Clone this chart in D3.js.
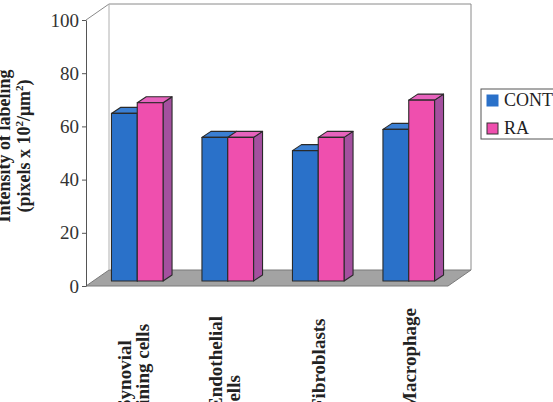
<!DOCTYPE html>
<html>
<head>
<meta charset="utf-8">
<script src="https://cdn.jsdelivr.net/npm/d3@7"></script>
<style>
  body { margin: 0; background: #fff; }
  svg { display: block; font-family: "Liberation Serif", "Times New Roman", serif; }
</style>
</head>
<body>
<div class="container"></div>
<script>
var categories = ['Synovial lining cells', 'Endothelial cells', 'Fibroblasts', 'Macrophage'];
var categoryLines = [['Synovial', 'lining cells'], ['Endothelial', 'cells'], ['Fibroblasts'], ['Macrophage']];
var seriesNames = ['CONTROL', 'RA'];
var controlValues = [63, 54, 49, 57];
var raValues = [67, 54, 54, 68];
var yTicks = [0, 20, 40, 60, 80, 100];

const WIDTH = 553, HEIGHT = 402;
const LEFT = 86, RIGHT = 448, TOP = 20, BOTTOM = 286;
const DEPTH_X = 23, DEPTH_Y = -16;     // depth of the 3d box
const BAR_OFF_X = 6, BAR_OFF_Y = -5;   // bars sit a little inside the box
const BAR_DX = 9, BAR_DY = -6;         // depth of each bar

var colors = {
    CONTROL: {front: '#2a71c9', top: '#3b7fd3', side: '#1f559c'},
    RA: {front: '#ef4fae', top: '#e763bd', side: '#a4509f'}
};

var pts = function (arr) {
    return arr.map(function (p) { return p.join(','); }).join(' ');
};

var drawBar = function (g, x, w, yTop, yBottom, c) {
    // side, top, front
    g.append('polygon')
        .attr('points', pts([[x + w, yBottom], [x + w + BAR_DX, yBottom + BAR_DY], [x + w + BAR_DX, yTop + BAR_DY], [x + w, yTop]]))
        .attr('fill', c.side);
    g.append('polygon')
        .attr('points', pts([[x, yTop], [x + w, yTop], [x + w + BAR_DX, yTop + BAR_DY], [x + BAR_DX, yTop + BAR_DY]]))
        .attr('fill', c.top);
    g.append('rect')
        .attr('x', x).attr('y', yTop)
        .attr('width', w).attr('height', yBottom - yTop)
        .attr('fill', c.front);
    g.selectAll('polygon, rect')
        .attr('stroke', '#2a2a2a').attr('stroke-width', 1.1).attr('stroke-linejoin', 'round');
};

var visualize = function () {
    var svg = d3.select('.container').append('svg')
        .attr('width', WIDTH).attr('height', HEIGHT);

    var xScale = d3.scaleBand().domain(categories).range([LEFT, RIGHT])
        .paddingInner(0.43).paddingOuter(0.215);
    var xInner = d3.scaleBand().domain(seriesNames).range([0, xScale.bandwidth()]);
    var yScale = d3.scaleLinear().domain([0, 100]).range([BOTTOM, TOP]);

    // walls and floor
    var box = svg.append('g').classed('box', true);
    box.append('polygon')
        .attr('points', pts([[LEFT, BOTTOM], [RIGHT, BOTTOM], [RIGHT + DEPTH_X, BOTTOM + DEPTH_Y], [LEFT + DEPTH_X, BOTTOM + DEPTH_Y]]))
        .attr('fill', '#a3a3a3').attr('stroke', '#7a7a7a').attr('stroke-width', 1);
    box.append('polyline')
        .attr('points', pts([[LEFT, TOP], [LEFT + DEPTH_X, TOP + DEPTH_Y], [RIGHT + DEPTH_X, TOP + DEPTH_Y], [RIGHT + DEPTH_X, BOTTOM + DEPTH_Y]]))
        .attr('fill', 'none').attr('stroke', '#8a8a8a').attr('stroke-width', 1);
    box.append('line')
        .attr('x1', LEFT + DEPTH_X).attr('y1', TOP + DEPTH_Y)
        .attr('x2', LEFT + DEPTH_X).attr('y2', BOTTOM + DEPTH_Y)
        .attr('stroke', '#b0b0b0').attr('stroke-width', 1);

    // y axis
    var yAxis = svg.append('g').attr('transform', 'translate(' + LEFT + ',0)')
        .call(d3.axisLeft(yScale).tickValues(yTicks).tickSize(4).tickPadding(3).tickSizeOuter(0));
    yAxis.select('.domain').attr('stroke', '#555');
    yAxis.selectAll('.tick line').attr('stroke', '#555');
    yAxis.selectAll('text')
        .attr('font-family', '"Liberation Serif", serif')
        .attr('font-size', 19).attr('fill', '#333');

    // bars
    var series = [controlValues, raValues];
    var bars = svg.append('g').classed('bars', true);
    categories.forEach(function (cat, i) {
        seriesNames.forEach(function (name, s) {
            var x = xScale(cat) + xInner(name) + BAR_OFF_X;
            var g = bars.append('g');
            drawBar(g, x, xInner.bandwidth(), yScale(series[s][i]) + BAR_OFF_Y, yScale(0) + BAR_OFF_Y, colors[name]);
        });
    });

    // category labels
    categories.forEach(function (cat, i) {
        var c = xScale(cat) + xScale.bandwidth() / 2 + BAR_OFF_X;
        var lines = categoryLines[i];
        var first = c + 7 - (lines.length - 1) * 13;
        var t = svg.append('text')
            .attr('transform', 'translate(' + first + ',410) rotate(-90)')
            .attr('font-size', 19).attr('font-weight', 'bold').attr('fill', '#222');
        lines.forEach(function (line, k) {
            t.append('tspan').attr('x', 0).attr('dy', k === 0 ? 0 : 18).text(line);
        });
    });

    // y title
    var title = svg.append('text')
        .attr('transform', 'translate(10,146) rotate(-90)')
        .attr('text-anchor', 'middle')
        .attr('font-size', 18).attr('font-weight', 'bold').attr('fill', '#222');
    title.append('tspan').attr('x', 0).text('Intensity of labeling');
    var l2 = title.append('tspan').attr('x', 0).attr('dy', 20);
    l2.append('tspan').text('(pixels x 10');
    l2.append('tspan').attr('font-size', 11).attr('dy', -7).text('2');
    l2.append('tspan').attr('dy', 7).text('/\u03bcm');
    l2.append('tspan').attr('font-size', 11).attr('dy', -7).text('2');
    l2.append('tspan').attr('dy', 7).text(')');

    // legend
    var legend = svg.append('g').attr('transform', 'translate(481,89)');
    legend.append('rect').attr('width', 100).attr('height', 50)
        .attr('fill', '#fff').attr('stroke', '#555').attr('stroke-width', 1);
    seriesNames.forEach(function (name, s) {
        var row = legend.append('g').attr('transform', 'translate(6,' + (6 + s * 28) + ')');
        row.append('rect').attr('width', 11).attr('height', 11)
            .attr('fill', colors[name].front)
            .attr('stroke', s === 0 ? colors[name].front : '#333').attr('stroke-width', 1);
        row.append('text').attr('x', 17).attr('y', 11)
            .attr('font-size', 18).attr('fill', '#222').text(name);
    });
};

window.onload = visualize;
</script>
</body>
</html>
